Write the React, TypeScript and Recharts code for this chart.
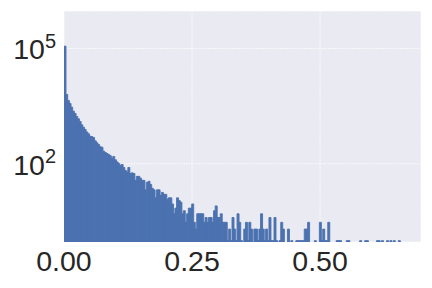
import React from 'react';
import { BarChart, Bar, XAxis, YAxis, CartesianGrid } from 'recharts';

// histogram bins: 200 equal bins starting at 0
const binWidth = 0.00328;
const counts = [
    114800, 6360, 4440, 3710, 2970, 2335, 2035, 1700, 1480, 1260,
    1035, 895, 780, 672, 603, 522, 510, 483, 396, 352,
    318, 277, 270, 213, 197, 185, 175, 162, 137, 155,
    127, 112, 102, 90, 96, 80, 67, 61, 80, 56,
    58, 56, 37, 47, 47, 42, 37, 37, 21, 33,
    35, 29, 23, 21, 13, 21, 21, 15, 18, 16,
    16, 12, 13, 13, 9, 5, 7, 13, 11, 10,
    5, 6, 3, 5, 7, 7, 9, 3, 2, 5,
    5, 5, 5, 3, 4, 3, 4, 4, 3, 6,
    8, 4, 4, 5, 3, 3, 3, 1, 2, 1,
    4, 2, 1, 5, 3, 1, 0, 2, 3, 1,
    3, 2, 0, 2, 2, 1, 2, 5, 2, 1,
    2, 1, 4, 1, 1, 4, 1, 0, 1, 3,
    2, 0, 0, 2, 0, 1, 0, 0, 1, 1,
    1, 1, 1, 2, 2, 3, 0, 0, 0, 1,
    0, 0, 3, 1, 2, 1, 1, 3, 0, 0,
    0, 0, 1, 1, 1, 0, 0, 0, 1, 1,
    0, 0, 0, 0, 0, 0, 1, 0, 0, 1,
    1, 0, 0, 0, 0, 0, 1, 1, 0, 1,
    0, 0, 1, 0, 1, 0, 1, 0, 0, 1,
];
const xTicks = [0, 0.25, 0.5];
const yTicks = [100, 100000];

const data = counts.map((c, i) => ({
    x: (i + 0.5) * binWidth,
    count: c > 0 ? c : null,
}));

const font = '"Liberation Sans", Arial, sans-serif';
const textColor = '#262626';

const XTick = (props: any) => {
    const { x, y, payload } = props;
    return (
        <text x={x} y={y} dy={20.7} textAnchor="middle" fill={textColor} fontSize={28.5} fontFamily={font}>
            {payload.value.toFixed(2)}
        </text>
    );
};

const YTick = (props: any) => {
    const { x, y, payload } = props;
    const exp = Math.round(Math.log10(payload.value));
    return (
        <text x={x} y={y + 11} textAnchor="end" fill={textColor} fontSize={28.5} fontFamily={font}>
            <tspan>10</tspan>
            <tspan dy={-11.5} fontSize={20}>{exp}</tspan>
        </text>
    );
};

export default function App() {
    return (
        <div style={{ position: 'absolute', left: 0, top: 0 }}>
            <BarChart
                width={432}
                height={288}
                data={data}
                margin={{ top: 11, right: 11, left: 0, bottom: 0 }}
                barCategoryGap={0}
                barGap={0}
            >
                <CartesianGrid fill="#EAEAF2" stroke="#ffffff" strokeDasharray="1.2 1.2" strokeWidth={1} />
                <XAxis
                    type="number"
                    dataKey="x"
                    domain={[0, 0.697]}
                    ticks={xTicks}
                    allowDataOverflow
                    axisLine={false}
                    tickLine={false}
                    height={46}
                    interval={0}
                    tick={<XTick />}
                />
                <YAxis
                    scale="log"
                    domain={[0.9226, 944061]}
                    ticks={yTicks}
                    allowDataOverflow
                    axisLine={false}
                    tickLine={false}
                    width={64}
                    interval={0}
                    tick={<YTick />}
                />
                <Bar dataKey="count" fill="#4C72B0" stroke="#4C72B0" strokeWidth={0.9} isAnimationActive={false} />
            </BarChart>
        </div>
    );
}
